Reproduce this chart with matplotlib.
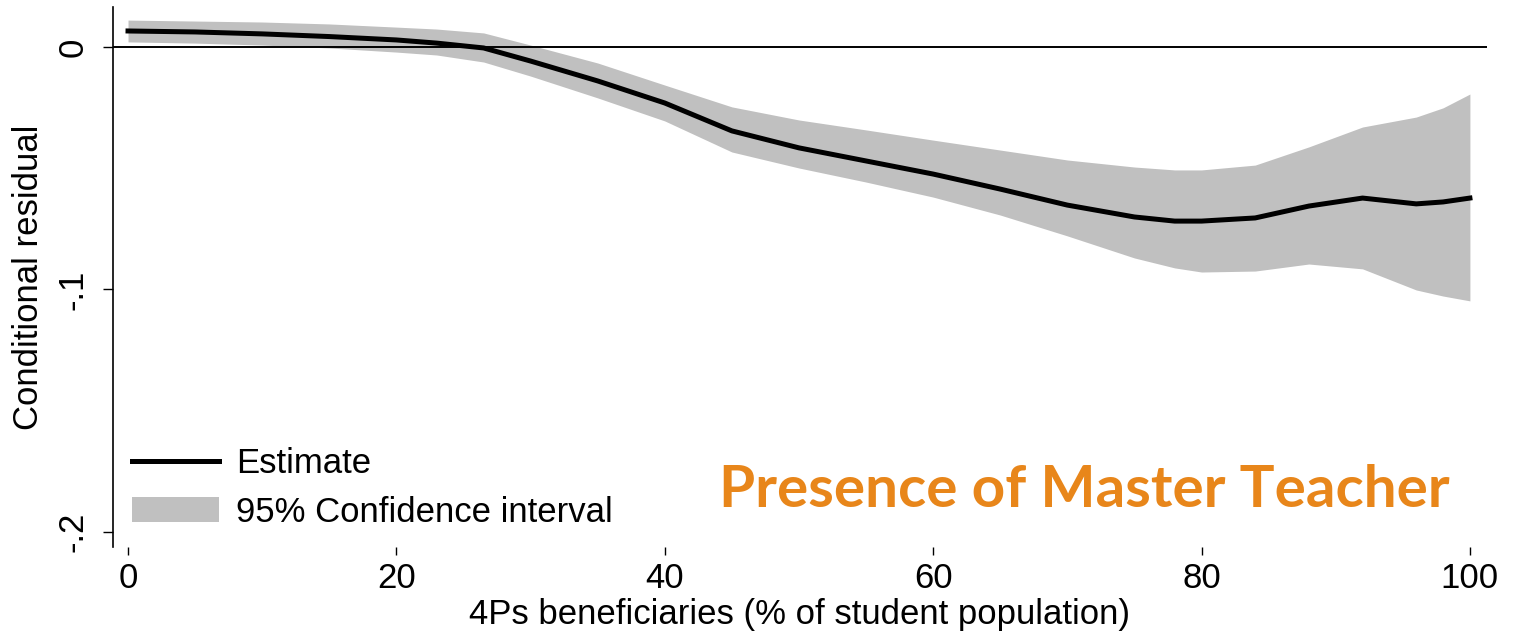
import matplotlib
matplotlib.use('Agg')
import matplotlib.pyplot as plt
from matplotlib.lines import Line2D
from matplotlib.patches import Patch

# share of 4Ps beneficiaries (%)
x_pct = [0, 5, 10, 15, 20, 23, 26.5, 30, 35, 40, 45, 50, 55, 60, 65, 70,
         75, 78, 80, 84, 88, 92, 96, 98, 100]
# conditional residual estimate
estimate = [0.0066, 0.0062, 0.0054, 0.0043, 0.0029, 0.0016, -0.0004, -0.0058,
            -0.0140, -0.0231, -0.0346, -0.0416, -0.0470, -0.0524, -0.0586,
            -0.0652, -0.0701, -0.0718, -0.0718, -0.0705, -0.0656, -0.0623,
            -0.0647, -0.0639, -0.0623]
# 95% CI bounds
ci_upper = [0.0111, 0.0107, 0.0103, 0.0095, 0.0082, 0.0074, 0.0058, 0.0008,
            -0.0066, -0.0157, -0.0247, -0.0301, -0.0342, -0.0384, -0.0425,
            -0.0466, -0.0495, -0.0507, -0.0507, -0.0487, -0.0412, -0.0330,
            -0.0289, -0.0251, -0.0194]
ci_lower = [0.0021, 0.0016, 0.0008, -0.0004, -0.0021, -0.0033, -0.0062, -0.0120,
            -0.0210, -0.0305, -0.0433, -0.0499, -0.0557, -0.0619, -0.0693,
            -0.0779, -0.0870, -0.0911, -0.0928, -0.0924, -0.0895, -0.0915,
            -0.1002, -0.1027, -0.1047]

x_ticks = [0, 20, 40, 60, 80, 100]
y_ticks = [0, -0.1, -0.2]
y_ticklabels = ['0', '-.1', '-.2']

GREY = '#c0c0c0'
ORANGE = '#e8861a'

plt.rcParams['font.family'] = ['Liberation Sans', 'DejaVu Sans']

fig = plt.figure(figsize=(15.29, 6.34), dpi=100)
ax = fig.add_axes([0.0739, 0.1372, 0.8986, 0.8518])

ax.fill_between(x_pct, ci_lower, ci_upper, color=GREY, linewidth=0, zorder=1)
ax.axhline(0, color='black', linewidth=1.4, zorder=2)
ax.plot(x_pct, estimate, color='black', linewidth=3.6, zorder=3)

ax.set_xlim(-1.12, 101.27)
ax.set_ylim(-0.2062, 0.0165)

for s in ['top', 'right', 'bottom']:
    ax.spines[s].set_visible(False)
ax.spines['left'].set_linewidth(1.2)

ax.set_xticks(x_ticks)
ax.set_yticks(y_ticks)
ax.set_yticklabels(y_ticklabels, rotation=90, va='center')
ax.tick_params(axis='y', length=7, width=1.0, pad=10, labelsize=25)
ax.tick_params(axis='x', length=6, width=1.0, pad=5, labelsize=25)

ax.set_xlabel('4Ps beneficiaries (% of student population)', fontsize=25, labelpad=2)
ax.set_ylabel('Conditional residual', fontsize=25, labelpad=8.5)

handles = [Line2D([], [], color='black', linewidth=3.6),
           Patch(facecolor=GREY, edgecolor='none')]
ax.legend(handles, ['Estimate', '95% Confidence interval'], loc='lower left',
          bbox_to_anchor=(-0.009, -0.024), frameon=False, fontsize=25,
          handlelength=2.5, handleheight=0.7, handletextpad=0.5, labelspacing=0.45)

ax.text(0.973, 0.105, 'Presence of Master Teacher', transform=ax.transAxes,
        ha='right', va='center', color=ORANGE, fontsize=42,
        fontweight='bold', family=['Lato', 'DejaVu Sans'])

fig.savefig('out.png', dpi=100)
